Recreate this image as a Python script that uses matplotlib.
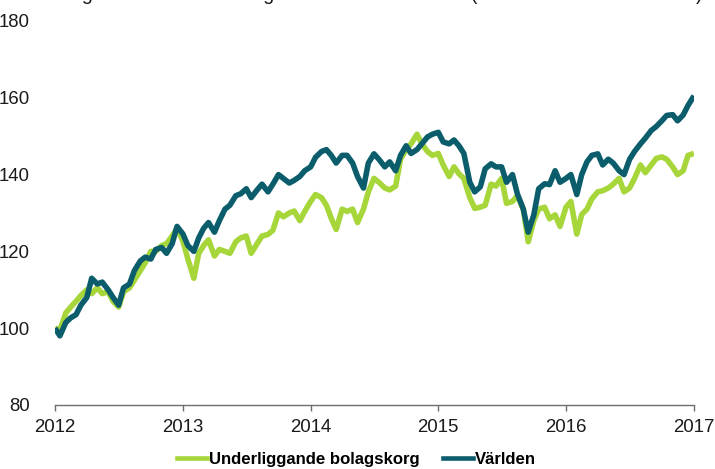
import matplotlib
matplotlib.use("Agg")
import matplotlib.pyplot as plt
import pandas as pd
from matplotlib import font_manager
from matplotlib.lines import Line2D

# ---------------- data (half-monthly) ----------------
dates = pd.date_range("2012-01-01", periods=121, freq="SMS")

bolagskorg = [
    100, 99.5, 104, 105.5, 107, 108.5, 110, 109, 110.5, 109, 109.5, 107,
    105.5, 109.5, 110.5, 112.5, 115, 117, 120, 120, 121.5, 122, 124, 126,
    122.6, 118, 113, 119.5, 121.5, 123, 118.8, 120.5, 120, 119.5, 122.5, 123.5,
    124, 119.5, 122, 124, 124.4, 125.5, 130, 129, 130, 130.5, 128, 130.4,
    133, 134.8, 134, 132, 128.6, 125.7, 131, 130.4, 131, 127.5, 131, 135.5,
    139, 138, 136.5, 136, 137, 144, 146.5, 148, 150.5, 148, 146, 145,
    145.5, 142.5, 139.5, 142, 140.2, 139, 134, 131.2, 131.5, 132, 137.5, 137,
    139, 132.5, 133, 134.5, 131, 122.5, 128, 131, 131.5, 128.5, 129.5, 126.5,
    131.5, 133, 124.5, 129.6, 131, 133.7, 135.5, 135.8, 136.5, 137.5, 139, 135.5,
    136.5, 139, 142.5, 140.5, 142.5, 144.2, 144.6, 144, 142, 140, 141, 145,
    145.5,
]

varlden = [
    100, 98, 101.5, 102.7, 103.5, 106, 108, 113, 111.5, 112, 110, 108,
    106, 110.5, 111.5, 115, 117.5, 118.5, 118, 120.5, 121, 119.5, 122, 126.5,
    124.5, 121.5, 120, 123.5, 126, 127.5, 125, 128, 131, 132, 134.5, 135,
    136.3, 134, 136, 137.5, 135.5, 137.5, 140, 139, 137.8, 138.5, 139.5, 141,
    142, 144.5, 146, 146.5, 145, 143, 145, 145, 143, 139.5, 136.5, 143,
    145.4, 144, 142, 143.3, 141, 145, 147.5, 145.5, 146.5, 148, 149.8, 150.5,
    151, 148.5, 148, 149, 147.5, 145.5, 138, 135.5, 136.8, 141.5, 142.8, 142,
    142, 138, 140, 135, 131, 125, 129.5, 136.3, 137.6, 137.4, 141, 138,
    139, 140, 134.8, 140, 143.3, 145, 145.4, 142.5, 144, 143, 141, 140,
    144, 146, 148, 149.5, 151.5, 152.5, 154, 155.4, 155.6, 154, 155.5, 158,
    160.5,
]

year_ticks = ["2012", "2013", "2014", "2015", "2016", "2017"]
y_ticks = [80, 100, 120, 140, 160, 180]
series_names = ["Underliggande bolagskorg", "Världen"]

# ---------------- fonts ----------------
available = {f.name for f in font_manager.fontManager.ttflist}
if "Liberation Sans Narrow" in available:
    FONT, tick_fs, leg_fs = "Liberation Sans Narrow", 16.5, 14.8
else:
    FONT, tick_fs, leg_fs = "Liberation Sans", 13.4, 12.1
plt.rcParams["font.family"] = [FONT, "DejaVu Sans"]

GREEN = "#A6D639"
TEAL = "#0B5D6C"

fig = plt.figure(figsize=(7.15, 4.69), dpi=100)
ax = fig.add_axes([0.0769, 0.1365, 0.8937, 0.8188])

ax.plot(dates, bolagskorg, color=GREEN, lw=4.0, solid_joinstyle="round",
        solid_capstyle="butt", zorder=2)
ax.plot(dates, varlden, color=TEAL, lw=4.0, solid_joinstyle="round",
        solid_capstyle="butt", zorder=3)

ax.set_ylim(80, 180)
ax.set_yticks(y_ticks)
ax.set_xlim(pd.Timestamp("2012-01-01"), pd.Timestamp("2017-01-01"))
ax.set_xticks([pd.Timestamp(y + "-01-01") for y in year_ticks])
ax.set_xticklabels(year_ticks)

for side in ["top", "right", "left"]:
    ax.spines[side].set_visible(False)
ax.spines["bottom"].set_color("#6e6e6e")
ax.spines["bottom"].set_linewidth(1.0)

ax.tick_params(axis="x", direction="out", length=4, width=1.0, color="#6e6e6e",
               labelsize=tick_fs, labelcolor="#1a1a1a", pad=6)
ax.tick_params(axis="y", length=0, labelsize=tick_fs, labelcolor="#1a1a1a", pad=18)

# cut-off title at the very top (only descenders visible in the reference)
fig.text(-37 / 715, 1.0, "Kursutveckling för de utvalda bolagen mot MSCI Världen (indexerad till 100 = 2012)",
         ha="left", va="baseline", fontsize=14.4, family="Liberation Sans", color="#1a1a1a")

handles = [Line2D([], [], color=GREEN, lw=3.3), Line2D([], [], color=TEAL, lw=3.3)]
leg = fig.legend(handles, series_names, loc="center", bbox_to_anchor=(0.4986, 0.02),
                 ncol=2, frameon=False, handlelength=1.8, handletextpad=0.1,
                 columnspacing=1.4, prop={"size": leg_fs, "weight": "bold"})

fig.savefig("out.png", dpi=100)
